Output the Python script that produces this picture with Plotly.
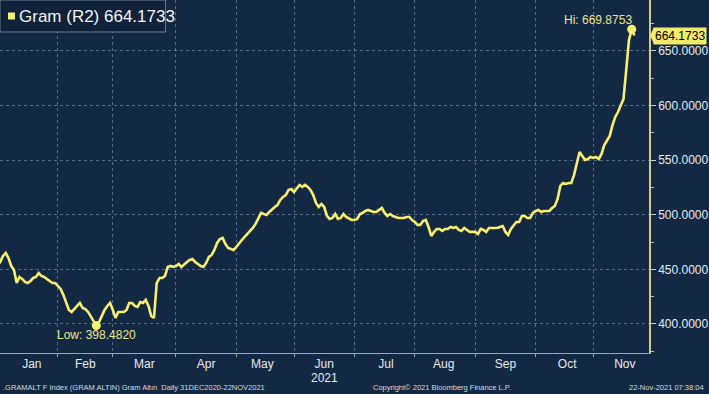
import pandas as pd
import plotly.graph_objects as go

# ---- data (Gram Altın, daily, 31 Dec 2020 - 22 Nov 2021, weekdays) ----
start_date = "2020-12-31"
end_date = "2021-11-22"
values = [
    454.0, 456.8, 462.3, 465.0, 460.4, 453.1, 449.5, 437.5, 443.0, 441.2,
    438.5, 437.5, 439.4, 442.1, 443.0, 446.7, 444.0, 443.0, 441.2, 439.4,
    437.5, 437.5, 434.8, 432.1, 426.6, 420.1, 412.8, 411.0, 413.7, 417.4,
    419.2, 414.7, 413.7, 411.0, 406.4, 401.8, 398.482, 401.8, 408.2, 412.8,
    416.5, 419.2, 412.8, 405.5, 411.0, 411.0, 411.0, 412.8, 419.2, 419.2,
    416.5, 415.6, 420.1, 419.2, 422.0, 416.5, 407.3, 405.5, 437.5, 442.1,
    442.1, 444.0, 452.2, 453.1, 452.2, 453.1, 454.9, 452.2, 454.9, 456.8,
    458.6, 459.5, 456.8, 454.9, 453.1, 452.2, 455.9, 461.4, 463.2, 467.8,
    474.2, 477.8, 478.8, 473.3, 469.6, 468.7, 467.8, 470.5, 474.2, 476.9,
    479.7, 482.4, 485.2, 487.9, 491.6, 496.2, 501.7, 500.7, 499.8, 502.6,
    505.3, 507.1, 509.0, 513.6, 516.3, 518.1, 522.7, 523.6, 520.9, 524.5,
    527.3, 525.5, 527.3, 525.5, 522.7, 518.1, 510.8, 507.1, 509.9, 507.1,
    498.9, 496.2, 497.1, 500.7, 496.2, 497.1, 500.7, 498.0, 496.2, 495.2,
    495.2, 496.2, 500.7, 501.7, 503.5, 504.4, 503.5, 502.6, 502.6, 504.4,
    506.2, 501.7, 498.9, 500.7, 498.9, 498.0, 497.1, 497.1, 497.1, 498.0,
    498.0, 495.2, 493.4, 490.7, 490.7, 494.3, 495.2, 488.8, 480.6, 484.3,
    487.0, 487.0, 485.2, 487.0, 487.0, 488.8, 487.9, 488.8, 486.1, 485.2,
    487.9, 486.1, 484.3, 484.3, 484.3, 482.4, 487.0, 486.1, 484.3, 487.9,
    487.9, 487.9, 487.9, 488.8, 489.7, 484.3, 481.5, 487.0, 490.7, 493.4,
    493.4, 498.9, 498.9, 497.1, 497.1, 501.7, 503.5, 504.4, 502.6, 503.5,
    503.5, 503.5, 506.2, 508.1, 514.5, 526.4, 529.1, 528.2, 529.1, 529.1,
    536.5, 548.4, 557.5, 553.9, 550.2, 551.1, 552.9, 552.0, 552.9, 551.1,
    555.7, 563.9, 567.6, 572.2, 582.2, 589.6, 594.1, 599.6, 606.1, 632.6,
    660.1, 669.8753, 664.1733,
]
dates = pd.bdate_range(start_date, end_date)
y_ticks = [400, 450, 500, 550, 600, 650]

BG = "#132943"
LINE = "#f6ef70"
GRID = "rgba(140,160,185,0.55)"
TXT = "#e6e9ee"
FONT = "Liberation Sans"

imax = max(range(len(values)), key=lambda i: values[i])
imin = min(range(len(values)), key=lambda i: values[i])
last = values[-1]

fig = go.Figure()
fig.add_trace(go.Scatter(x=dates, y=values, mode="lines",
                         line=dict(color=LINE, width=2.6), hoverinfo="skip"))
fig.add_trace(go.Scatter(x=[dates[imax], dates[imin]], y=[values[imax], values[imin]],
                         mode="markers", marker=dict(color=LINE, size=9), hoverinfo="skip"))

fig.update_layout(
    width=709, height=394,
    margin=dict(l=0, r=58, t=0, b=41),
    paper_bgcolor=BG, plot_bgcolor=BG,
    showlegend=False,
    font=dict(family=FONT, color=TXT, size=12),
)
fig.update_xaxes(
    type="date",
    range=["2020-12-31 22:00", "2021-11-29 07:00"],
    rangebreaks=[dict(bounds=["sat", "mon"])],
    dtick="M1", tick0="2021-01-01", tickformat="%b", ticklabelmode="period",
    showgrid=True, gridcolor=GRID, griddash="dot", gridwidth=1,
    ticks="outside", ticklen=3, tickcolor="#9aa5b3",
    ticklabelstandoff=-3,
    showline=True, linecolor="#9aa5b3", linewidth=1,
    tickfont=dict(size=12, color=TXT, family=FONT),
    zeroline=False,
)
fig.update_yaxes(
    side="right", range=[373.4, 696.7],
    tickvals=y_ticks, tickformat=".4f",
    showgrid=True, gridcolor=GRID, griddash="dot", gridwidth=1,
    ticks="outside", ticklen=5, tickcolor="#cfd3d8",
    minor=dict(dtick=25, tick0=0, ticks="outside", ticklen=3, tickcolor="#b0b6bd", showgrid=False),
    showline=True, linecolor="#cfcb8a", linewidth=1.5,
    tickfont=dict(size=12, color=TXT, family=FONT),
    zeroline=False,
)

ph = 353.0
pw = 651.0
# legend box
fig.add_shape(type="rect", xref="paper", yref="paper",
              x0=0, x1=166 / pw, y0=1 - 32 / ph, y1=1,
              fillcolor="#0f2239", line=dict(color="#6f7d8e", width=1))
fig.add_shape(type="rect", xref="paper", yref="paper",
              x0=8 / pw, x1=15 / pw, y0=1 - 19.5 / ph, y1=1 - 12.5 / ph,
              fillcolor=LINE, line=dict(width=0))
fig.add_annotation(xref="paper", yref="paper", x=17 / pw, y=1 - 16 / ph,
                   xanchor="left", yanchor="middle", showarrow=False,
                   text=f"Gram (R2) {last:.4f}",
                   font=dict(family=FONT, size=17, color="#f2f4f6"))

# Hi / Low labels
fig.add_annotation(x=dates[imax], y=values[imax], xanchor="right", yanchor="middle",
                   xshift=2, yshift=9, showarrow=False,
                   text=f"Hi: {values[imax]:.4f}", font=dict(size=12, color="#ebe48e", family=FONT))
fig.add_annotation(x=dates[imin], y=values[imin], xanchor="center", yanchor="middle",
                   yshift=-9, showarrow=False,
                   text=f"Low: {values[imin]:.4f}", font=dict(size=12, color="#ebe48e", family=FONT))

# last value tag
fig.add_shape(type="path", xref="paper", yref="y",
              path=f"M {1 + 1/pw} {last} L {1 + 5/pw} {last + 7.5} L {1 + 5/pw} {last - 7.5} Z",
              fillcolor="#f2eb6a", line=dict(width=0))
fig.add_annotation(xref="paper", yref="y", x=1 + 4 / pw, y=last, xanchor="left", yanchor="middle",
                   showarrow=False, text=f"{last:.4f}", bgcolor="#f2eb6a", borderpad=1,
                   font=dict(size=12, color="#000000", family=FONT))

# year label under Jun
fig.add_annotation(xref="x", yref="paper", x="2021-06-16", y=-(378 - ph) / ph,
                   xanchor="center", yanchor="middle", showarrow=False, text="2021",
                   font=dict(size=12, color=TXT, family=FONT))

# footer
foot_y = -(387 - ph) / ph
fig.add_annotation(xref="paper", yref="paper", x=1 / pw, y=foot_y, xanchor="left", yanchor="middle",
                   showarrow=False, text=".GRAMALT F Index (GRAM ALTIN) Gram Altın  Daily 31DEC2020-22NOV2021",
                   font=dict(size=7.5, color="#d5d9de", family=FONT))
fig.add_annotation(xref="paper", yref="paper", x=372 / pw, y=foot_y, xanchor="left", yanchor="middle",
                   showarrow=False, text="Copyright© 2021 Bloomberg Finance L.P.",
                   font=dict(size=7.5, color="#d5d9de", family=FONT))
fig.add_annotation(xref="paper", yref="paper", x=708 / pw, y=foot_y, xanchor="right", yanchor="middle",
                   showarrow=False, text="22-Nov-2021 07:38:04",
                   font=dict(size=7.5, color="#d5d9de", family=FONT))

fig.write_html("out.html", config={"displayModeBar": False},
               post_script="document.body.style.margin='0';document.body.style.padding='0';")
